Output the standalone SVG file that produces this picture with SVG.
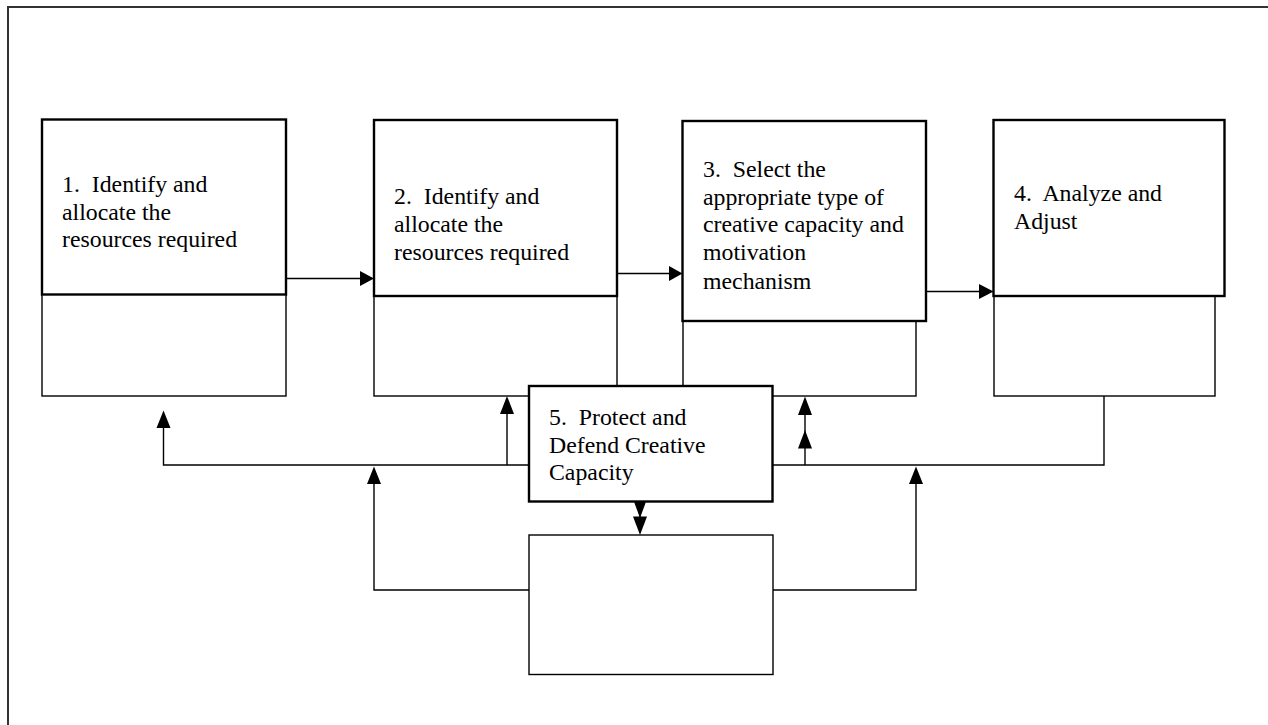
<svg xmlns="http://www.w3.org/2000/svg" width="1268" height="725" viewBox="0 0 1268 725">
<style>
.frame{fill:none;stroke:#333;stroke-width:2}
.box{fill:#fff;stroke:#000;stroke-width:2.4}
.sub{fill:#fff;stroke:#000;stroke-width:1.4}
.ln{fill:none;stroke:#000;stroke-width:1.4}
.ah{fill:#000;stroke:none}
text{font-family:"Liberation Serif","Times New Roman",serif;font-size:23.8px;fill:#000;white-space:pre}
</style>
<rect class="frame" x="8" y="7" width="1300" height="800"/>
<g id="sub-rects">
<rect class="sub" x="42" y="294" width="244" height="102"/>
<rect class="sub" x="374" y="296" width="243" height="100"/>
<rect class="sub" x="683" y="296" width="233" height="100"/>
<rect class="sub" x="994" y="296" width="221" height="100"/>
</g>
<g id="node1">
<rect class="box" x="42" y="119.5" width="244" height="175"/>
<text x="62" y="192">1.  Identify and</text>
<text x="62" y="219.5">allocate the</text>
<text x="62" y="247">resources required</text>
</g>
<g id="node2">
<rect class="box" x="374" y="120" width="243" height="176"/>
<text x="394" y="204">2.  Identify and</text>
<text x="394" y="232">allocate the</text>
<text x="394" y="260">resources required</text>
</g>
<g id="node3">
<rect class="box" x="682.5" y="121" width="243.5" height="200"/>
<text x="703" y="177">3.  Select the</text>
<text x="703" y="204.5">appropriate type of</text>
<text x="703" y="232">creative capacity and</text>
<text x="703" y="260">motivation</text>
<text x="703" y="288.5">mechanism</text>
</g>
<g id="node4">
<rect class="box" x="993.5" y="120" width="231" height="176"/>
<text x="1014" y="201">4.  Analyze and</text>
<text x="1014" y="229">Adjust</text>
</g>
<g id="connectors">
<path class="ln" d="M286 278.5H362"/>
<polygon class="ah" points="374,278.5 360,271 360,286"/>
<path class="ln" d="M617 273.5H672"/>
<polygon class="ah" points="682.5,273.5 669,266 669,281"/>
<path class="ln" d="M926 291.5H982"/>
<polygon class="ah" points="993.5,291.5 979,284 979,299"/>
<path class="ln" d="M529 465H163.5V424"/>
<polygon class="ah" points="163.5,410.5 156.5,428 170.5,428"/>
<path class="ln" d="M507 465V410"/>
<polygon class="ah" points="507,396 500,414 514,414"/>
<path class="ln" d="M772 465H1104V396"/>
<path class="ln" d="M805 465V410"/>
<polygon class="ah" points="805,396.5 798,415 812,415"/>
<polygon class="ah" points="805,430 798,448.5 812,448.5"/>
<path class="ln" d="M529 590H374V480"/>
<polygon class="ah" points="374,466.5 367,484 381,484"/>
<path class="ln" d="M773 590H916V480"/>
<polygon class="ah" points="916,466.5 909,484 923,484"/>
<polygon class="ah" points="640,518 633,499 647,499"/>
<path class="ln" d="M640 502V522"/>
<polygon class="ah" points="640,535 633,516.5 647,516.5"/>
</g>
<g id="node5">
<rect class="box" x="529" y="386" width="243.5" height="115.5"/>
<text x="549" y="425">5.  Protect and</text>
<text x="549" y="452.5">Defend Creative</text>
<text x="549" y="480">Capacity</text>
</g>
<g id="node6">
<rect class="sub" x="529" y="535" width="244" height="139.5"/>
</g>
</svg>
